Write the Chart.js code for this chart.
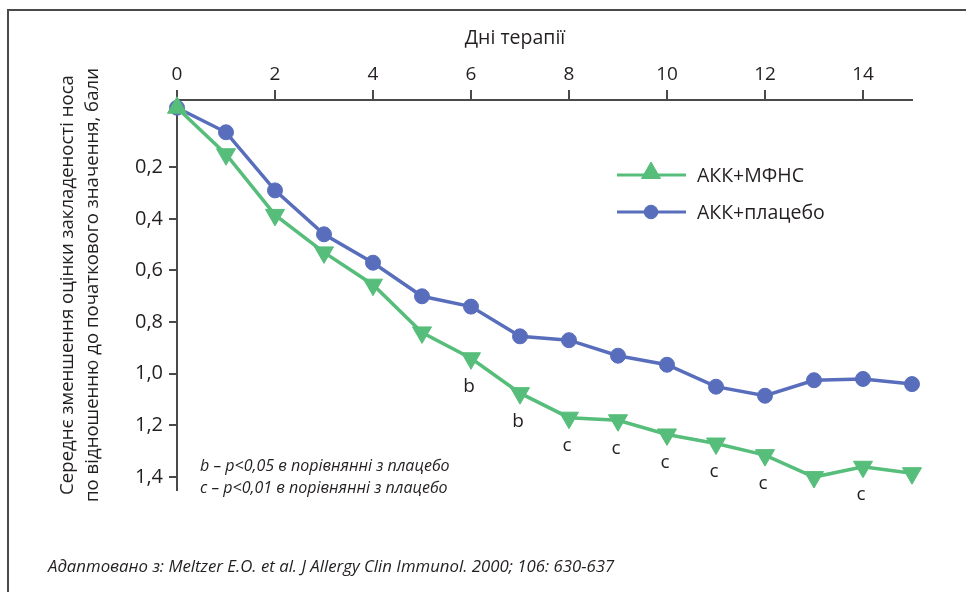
<!DOCTYPE html>
<html>
<head>
<meta charset="utf-8">
<script src="https://cdn.jsdelivr.net/npm/chart.js@4.4.0/dist/chart.umd.min.js"></script>
<style>
  html, body { margin: 0; padding: 0; background: #fff; }
  #wrap { width: 966px; height: 592px; position: relative; }
</style>
</head>
<body>
<div id="wrap"><canvas id="grafica"></canvas></div>
<script>
// days of therapy
const dni = [0, 1, 2, 3, 4, 5, 6, 7, 8, 9, 10, 11, 12, 13, 14, 15];
// АКК+МФНС
const values_mfns = [-0.03, 0.15, 0.385, 0.53, 0.655, 0.84, 0.94, 1.075, 1.17, 1.18, 1.235, 1.27, 1.315, 1.40, 1.36, 1.385];
// АКК+плацебо
const values_placebo = [-0.03, 0.065, 0.29, 0.46, 0.57, 0.70, 0.74, 0.855, 0.87, 0.93, 0.965, 1.05, 1.085, 1.025, 1.02, 1.04];
// significance marks under the green line
const sig = ['', '', '', '', '', '', 'b', 'b', 'c', 'c', 'c', 'c', 'c', '', 'c', ''];

const xTicks = [0, 2, 4, 6, 8, 10, 12, 14];
const yTicks = [0.2, 0.4, 0.6, 0.8, 1.0, 1.2, 1.4];

const xTitle = 'Дні терапії';
const yTitle = ['Середнє зменшення оцінки закладеності носа', 'по відношенню до початкового значення, бали'];
const notas = ['b – p<0,05 в порівнянні з плацебо', 'c – p<0,01 в порівнянні з плацебо'];
const fuente = 'Адаптовано з: Meltzer E.O. et al. J Allergy Clin Immunol. 2000; 106: 630-637';

const VERDE = 'rgb(86,190,122)';
const AZUL = 'rgb(88,110,188)';
const TINTA = '#231f20';
const LINEA = '#4a4a4a';
const FUENTE = '"Open Sans", "DejaVu Sans", sans-serif';

const coma = v => v.toFixed(1).replace('.', ',');

const decor = {
  id: 'decor',
  afterDraw(chart) {
    const c = chart.ctx;
    c.save();

    // frame (top + left)
    c.strokeStyle = LINEA;
    c.lineWidth = 2;
    c.beginPath();
    c.moveTo(8, 592);
    c.lineTo(8, 10);
    c.lineTo(966, 10);
    c.stroke();

    c.fillStyle = TINTA;
    // x title
    c.font = '500 19.5px ' + FUENTE;
    c.textAlign = 'center';
    c.textBaseline = 'middle';
    c.fillText(xTitle, 515, 38);

    // y title, two rotated lines
    c.save();
    c.translate(68, 285);
    c.rotate(-Math.PI / 2);
    c.font = '18.6px ' + FUENTE;
    c.fillText(yTitle[0], 0, 0);
    c.fillText(yTitle[1], 0, 25);
    c.restore();

    // significance letters
    c.font = '500 19px ' + FUENTE;
    const meta = chart.getDatasetMeta(0);
    sig.forEach((s, i) => {
      if (!s) return;
      const p = meta.data[i];
      c.fillText(s, p.x - 2, p.y + 28);
    });

    // legend
    const items = [
      { ds: chart.data.datasets[0], y: 175 },
      { ds: chart.data.datasets[1], y: 212 }
    ];
    items.forEach(it => {
      c.strokeStyle = it.ds.borderColor;
      c.lineWidth = 3;
      c.beginPath();
      c.moveTo(617, it.y);
      c.lineTo(686, it.y);
      c.stroke();
      c.fillStyle = it.ds.borderColor;
      c.lineWidth = 1;
      const tri = it.ds.pointStyle === 'triangle';
      Chart.helpers.drawPoint(c, {
        pointStyle: it.ds.pointStyle,
        radius: tri ? 11 : 6.8,
        rotation: 0,
        borderWidth: 1
      }, 651, tri ? it.y - 2 : it.y);
      c.fillStyle = TINTA;
      c.font = '500 19.5px ' + FUENTE;
      c.textAlign = 'left';
      c.fillText(it.ds.label, 697, it.y + 1);
    });

    // footnotes
    c.font = 'italic 16px ' + FUENTE;
    c.textAlign = 'left';
    c.fillText(notas[0], 200, 466);
    c.fillText(notas[1], 200, 488);

    c.font = 'italic 16.8px ' + FUENTE;
    c.fillText(fuente, 48, 567);

    c.restore();
  }
};

const ctx = document.getElementById('grafica');
const toPts = vals => dni.map((d, i) => ({ x: d, y: vals[i] }));

new Chart(ctx, {
  type: 'line',
  data: {
    datasets: [{
      label: 'АКК+МФНС',
      data: toPts(values_mfns),
      borderColor: VERDE,
      backgroundColor: VERDE,
      borderWidth: 3.5,
      pointStyle: 'triangle',
      pointRadius: 11,
      pointBorderWidth: 1,
      pointRotation: c => c.dataIndex === 0 ? 0 : 180,
      clip: false
    }, {
      label: 'АКК+плацебо',
      data: toPts(values_placebo),
      borderColor: AZUL,
      backgroundColor: AZUL,
      borderWidth: 3.5,
      pointStyle: 'circle',
      pointRadius: 7.5,
      pointBorderWidth: 1,
      clip: false
    }]
  },
  options: {
    responsive: true,
    maintainAspectRatio: false,
    animation: false,
    layout: { padding: { left: 0, top: 0, right: 54, bottom: 102 } },
    plugins: { legend: { display: false }, tooltip: { enabled: false } },
    scales: {
      x: {
        type: 'linear',
        position: 'top',
        min: 0,
        max: 15,
        afterFit: s => { s.height = 100; },
        afterBuildTicks: s => { s.ticks = xTicks.map(v => ({ value: v })); },
        grid: { drawOnChartArea: false, tickLength: 10, color: LINEA, lineWidth: 2 },
        border: { color: LINEA, width: 2 },
        ticks: { color: TINTA, font: { family: FUENTE, size: 19 }, padding: 4, maxRotation: 0 }
      },
      y: {
        type: 'linear',
        reverse: true,
        min: -0.06,
        max: 1.45,
        afterFit: s => { s.width = 177; },
        afterBuildTicks: s => { s.ticks = yTicks.map(v => ({ value: v })); },
        grid: { drawOnChartArea: false, tickLength: 8, color: LINEA, lineWidth: 2 },
        border: { color: LINEA, width: 2 },
        ticks: { color: TINTA, font: { family: FUENTE, size: 20 }, padding: 6, callback: v => coma(v) }
      }
    }
  },
  plugins: [decor]
});
</script>
</body>
</html>
